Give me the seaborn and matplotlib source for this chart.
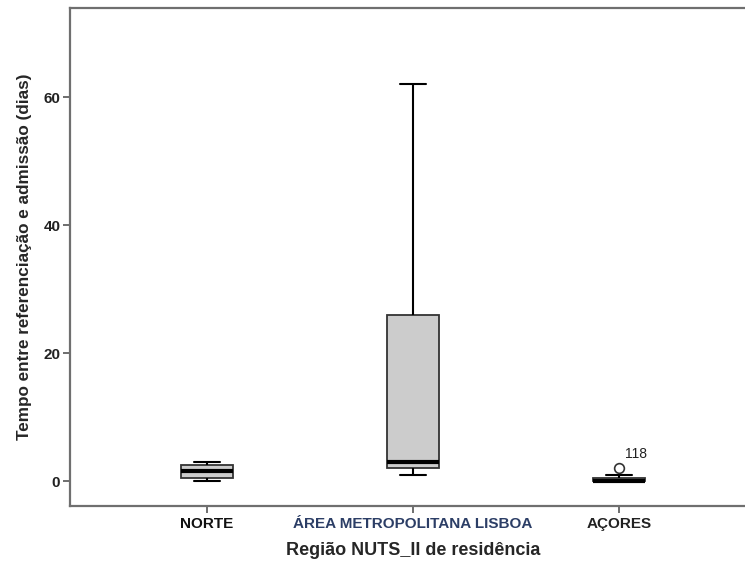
import matplotlib
matplotlib.use("Agg")
import matplotlib.pyplot as plt
import seaborn as sns
import pandas as pd

# Waiting time (days) between referral and admission, by NUTS II region
regions = ["NORTE", "ÁREA METROPOLITANA LISBOA", "AÇORES"]
norte_days = [0, 0.5, 1.5, 2.5, 3]
lisboa_days = [1, 2, 3, 26, 62]
acores_days = [0, 0, 0, 0, 0, 0, 0.5, 1, 2]
outlier_case = "118"
outlier_value = 2
yticks = [0, 20, 40, 60]

df = pd.DataFrame({
    "regiao": [regions[0]] * len(norte_days)
              + [regions[1]] * len(lisboa_days)
              + [regions[2]] * len(acores_days),
    "dias": norte_days + lisboa_days + acores_days,
})

sns.set_style("white")
plt.rcParams["font.family"] = ["Liberation Sans", "DejaVu Sans"]

fig = plt.figure(figsize=(7.45, 5.69), dpi=100)
ax = fig.add_axes([70 / 745, 63 / 569, 686 / 745, 498.5 / 569])

sns.boxplot(
    data=df, x="regiao", y="dias", order=regions, ax=ax,
    width=0.25, whis=1.5, color="#cccccc", saturation=1,
    linewidth=1.3, linecolor="#333333",
    medianprops=dict(color="black", linewidth=3),
    whiskerprops=dict(color="black", linewidth=1.5),
    capprops=dict(color="black", linewidth=1.5),
    capwidths=0.125,
    flierprops=dict(marker="o", markersize=7, markerfacecolor="white",
                    markeredgecolor="#333333", markeredgewidth=1.2),
)

ax.annotate(outlier_case, xy=(2, outlier_value), xytext=(4, 5),
            textcoords="offset points", fontsize=10, color="#222222",
            ha="left", va="bottom")

ax.set_xlim(-0.665, 2.665)
ax.set_ylim(-3.9, 74)
ax.set_yticks(yticks)

for side in ["left", "top", "bottom"]:
    ax.spines[side].set_visible(True)
    ax.spines[side].set_color("#6f6f6f")
    ax.spines[side].set_linewidth(1.6)
ax.spines["right"].set_visible(False)

ax.tick_params(axis="both", direction="out", length=5, width=1.2,
               color="#555555", left=True, bottom=True)
ax.tick_params(axis="y", labelsize=11, pad=2)
ax.tick_params(axis="x", labelsize=11, pad=3)
for lbl in ax.get_yticklabels():
    lbl.set_fontweight("bold")
    lbl.set_color("#222222")
xcolors = ["#111111", "#2c3e66", "#222222"]
for lbl, c in zip(ax.get_xticklabels(), xcolors):
    lbl.set_fontweight("bold")
    lbl.set_color(c)

ax.set_xlabel("Região NUTS_II de residência", fontsize=13,
              fontweight="bold", labelpad=8)
ax.set_ylabel("Tempo entre referenciação e admissão (dias)", fontsize=12.3,
              fontweight="bold", labelpad=8)

fig.savefig("out.png", dpi=100)
